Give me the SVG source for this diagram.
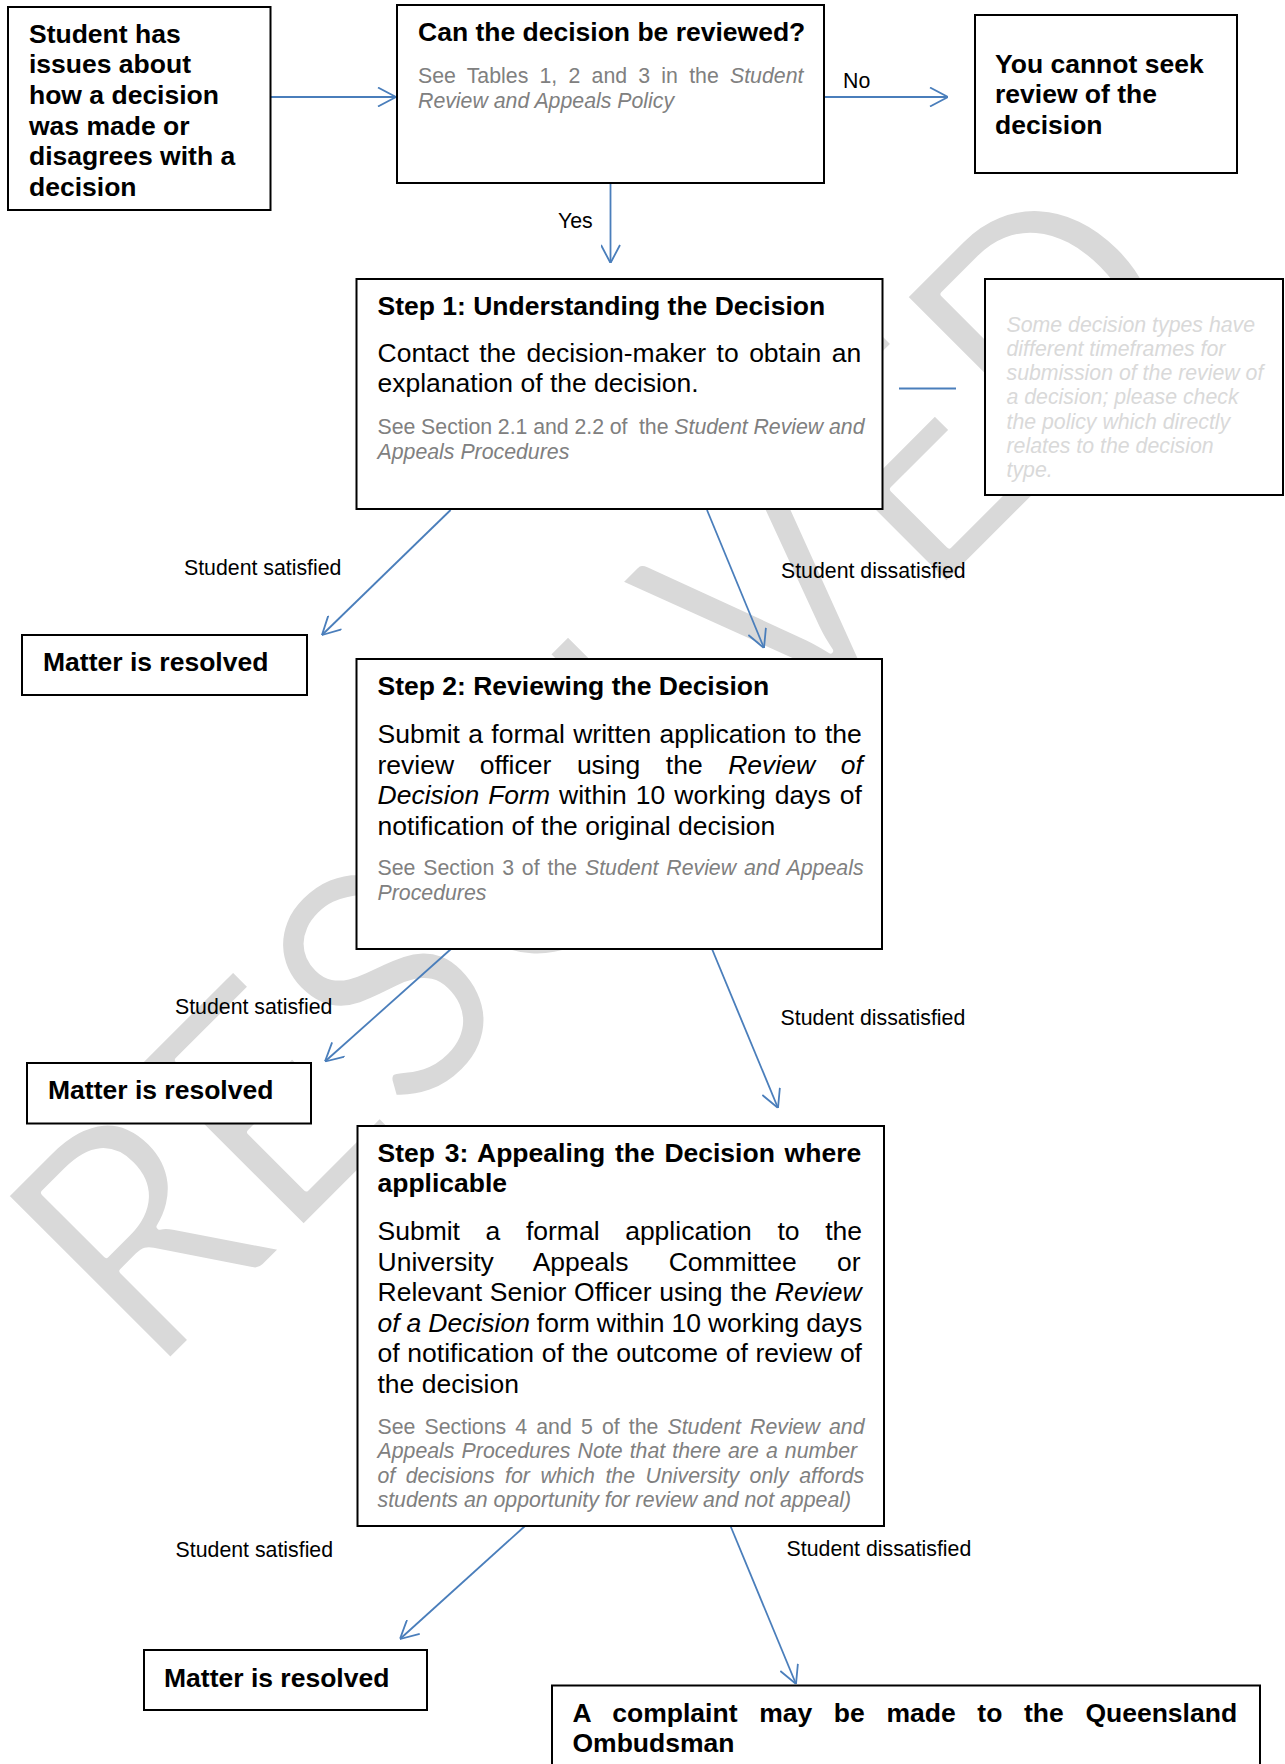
<svg xmlns="http://www.w3.org/2000/svg" width="1285" height="1764" viewBox="0 0 1285 1764">
<style>
text{font-family:"Liberation Sans",Arial,sans-serif}
.b{font-weight:bold;font-size:26.5px;fill:#000}
.r{font-size:26.5px;fill:#000}
.g{font-size:21.3px;fill:#808080}
.lbl{font-size:21.3px;fill:#000}
.note{font-size:21.3px;font-style:italic;fill:#d9d9d9}
.i{font-style:italic}
.box{fill:#fff;stroke:#000;stroke-width:2}
.conn{stroke:#4a7ebb;stroke-width:1.8;fill:none}
.wm{font-family:Lato,"Liberation Sans",sans-serif;font-weight:400;font-size:325px;fill:#d9d9d9;stroke:#fff;stroke-width:6;stroke-linejoin:round}
</style>
<defs>
<marker id="arr" viewBox="0 0 20 20" refX="20" refY="10" markerWidth="20" markerHeight="20" markerUnits="userSpaceOnUse" orient="auto">
<path d="M2,0.5 L20,10 L2,19.5" fill="none" stroke="#4a7ebb" stroke-width="1.8"/>
</marker>
</defs>
<rect width="1285" height="1764" fill="#fff"/>
<g id="watermark">
<text class="wm" transform="translate(151,1380) rotate(-45)" textLength="1500" lengthAdjust="spacingAndGlyphs">RESOLVED</text>
</g>
<g id="connectors">
<line class="conn" x1="271" y1="97" x2="396" y2="97" marker-end="url(#arr)"/>
<line class="conn" x1="824" y1="97" x2="948" y2="97" marker-end="url(#arr)"/>
<line class="conn" x1="610.5" y1="183" x2="610.5" y2="263" marker-end="url(#arr)"/>
<line class="conn" x1="899" y1="388.5" x2="956" y2="388.5"/>
<line class="conn" x1="450.6" y1="510" x2="322" y2="635" marker-end="url(#arr)"/>
<line class="conn" x1="707" y1="510" x2="764" y2="648" marker-end="url(#arr)"/>
<line class="conn" x1="451" y1="949" x2="325" y2="1061.5" marker-end="url(#arr)"/>
<line class="conn" x1="712" y1="949" x2="778" y2="1108" marker-end="url(#arr)"/>
<line class="conn" x1="525" y1="1526" x2="400" y2="1639" marker-end="url(#arr)"/>
<line class="conn" x1="730.5" y1="1526" x2="796" y2="1684" marker-end="url(#arr)"/>
<text class="lbl" x="843" y="88">No</text>
<text class="lbl" x="558" y="228">Yes</text>
<text class="lbl" x="184" y="575">Student satisfied</text>
<text class="lbl" x="781" y="578">Student dissatisfied</text>
<text class="lbl" x="175" y="1013.5">Student satisfied</text>
<text class="lbl" x="780.6" y="1024.5">Student dissatisfied</text>
<text class="lbl" x="175.6" y="1556.5">Student satisfied</text>
<text class="lbl" x="786.6" y="1556">Student dissatisfied</text>
</g>
<g id="start">
<rect class="box" x="8" y="7" width="262.5" height="203"/>
<text class="b" x="29" y="42.7">Student has</text>
<text class="b" x="29" y="73.3">issues about</text>
<text class="b" x="29" y="103.9">how a decision</text>
<text class="b" x="29" y="134.5">was made or</text>
<text class="b" x="29" y="165.1">disagrees with a</text>
<text class="b" x="29" y="195.7">decision</text>
</g>
<g id="can-review">
<rect class="box" x="397" y="5" width="427" height="178"/>
<text class="b" x="418" y="41">Can the decision be reviewed?</text>
<text class="g" x="418" y="83" style="word-spacing:5.3px">See Tables 1, 2 and 3 in the <tspan class="i">Student</tspan></text>
<text class="g i" x="418" y="107.5">Review and Appeals Policy</text>
</g>
<g id="cannot-seek">
<rect class="box" x="975" y="15" width="262" height="158"/>
<text class="b" x="995" y="72.5">You cannot seek</text>
<text class="b" x="995" y="103">review of the</text>
<text class="b" x="995" y="133.5">decision</text>
</g>
<g id="step1">
<rect class="box" x="356.5" y="279" width="526" height="230"/>
<text class="b" x="377.5" y="315">Step 1: Understanding the Decision</text>
<text class="r" x="377.5" y="361.5" style="word-spacing:3.06px">Contact the decision-maker to obtain an</text>
<text class="r" x="377.5" y="391.5">explanation of the decision.</text>
<text class="g" x="377.5" y="434" style="word-spacing:-0.2px">See Section 2.1 and 2.2 of&#160; the <tspan class="i">Student Review and</tspan></text>
<text class="g i" x="377.5" y="458.5">Appeals Procedures</text>
</g>
<g id="timeframes-note">
<rect class="box" x="985" y="279" width="298" height="216"/>
<text class="note" x="1006.5" y="331.5">Some decision types have</text>
<text class="note" x="1006.5" y="355.8">different timeframes for</text>
<text class="note" x="1006.5" y="380.1">submission of the review of</text>
<text class="note" x="1006.5" y="404.4">a decision; please check</text>
<text class="note" x="1006.5" y="428.7">the policy which directly</text>
<text class="note" x="1006.5" y="453">relates to the decision</text>
<text class="note" x="1006.5" y="477.3">type.</text>
</g>
<g id="resolved-1">
<rect class="box" x="22" y="635" width="285" height="60"/>
<text class="b" x="43" y="671">Matter is resolved</text>
</g>
<g id="step2">
<rect class="box" x="356.5" y="659" width="525.5" height="290"/>
<text class="b" x="377.5" y="695">Step 2: Reviewing the Decision</text>
<text class="r" x="377.5" y="743" style="word-spacing:0.92px">Submit a formal written application to the</text>
<text class="r" x="377.5" y="773.5" style="word-spacing:18.2px">review officer using the <tspan class="i">Review of</tspan></text>
<text class="r" x="377.5" y="804" style="word-spacing:1.67px"><tspan class="i">Decision Form</tspan> within 10 working days of</text>
<text class="r" x="377.5" y="834.5">notification of the original decision</text>
<text class="g" x="377.5" y="875" style="word-spacing:1.95px">See Section 3 of the <tspan class="i">Student Review and Appeals</tspan></text>
<text class="g i" x="377.5" y="899.5">Procedures</text>
</g>
<g id="resolved-2">
<rect class="box" x="27" y="1063" width="284" height="60.5"/>
<text class="b" x="48" y="1099">Matter is resolved</text>
</g>
<g id="step3">
<rect class="box" x="357.5" y="1126" width="526.5" height="400"/>
<text class="b" x="377.5" y="1161.5" style="word-spacing:2.4px">Step 3: Appealing the Decision where</text>
<text class="b" x="377.5" y="1192">applicable</text>
<text class="r" x="377.5" y="1240" style="word-spacing:18.24px">Submit a formal application to the</text>
<text class="r" x="377.5" y="1270.5" style="word-spacing:32.9px">University Appeals Committee or</text>
<text class="r" x="377.5" y="1301" style="word-spacing:0.3px">Relevant Senior Officer using the <tspan class="i">Review</tspan></text>
<text class="r" x="377.5" y="1331.5" style="word-spacing:-0.4px"><tspan class="i">of a Decision</tspan> form within 10 working days</text>
<text class="r" x="377.5" y="1362" style="word-spacing:0.4px">of notification of the outcome of review of</text>
<text class="r" x="377.5" y="1392.5">the decision</text>
<text class="g" x="377.5" y="1433.5" style="word-spacing:3.2px">See Sections 4 and 5 of the <tspan class="i">Student Review and</tspan></text>
<text class="g i" x="377.5" y="1458" style="word-spacing:1.2px">Appeals Procedures Note that there are a number</text>
<text class="g i" x="377.5" y="1482.5" style="word-spacing:4.6px">of decisions for which the University only affords</text>
<text class="g i" x="377.5" y="1507">students an opportunity for review and not appeal)</text>
</g>
<g id="resolved-3">
<rect class="box" x="144" y="1650" width="283" height="60"/>
<text class="b" x="164" y="1687">Matter is resolved</text>
</g>
<g id="ombudsman">
<rect class="box" x="552" y="1685.5" width="708" height="120"/>
<text class="b" x="572.5" y="1722" style="word-spacing:14.3px">A complaint may be made to the Queensland</text>
<text class="b" x="572.5" y="1752">Ombudsman</text>
</g>
</svg>
